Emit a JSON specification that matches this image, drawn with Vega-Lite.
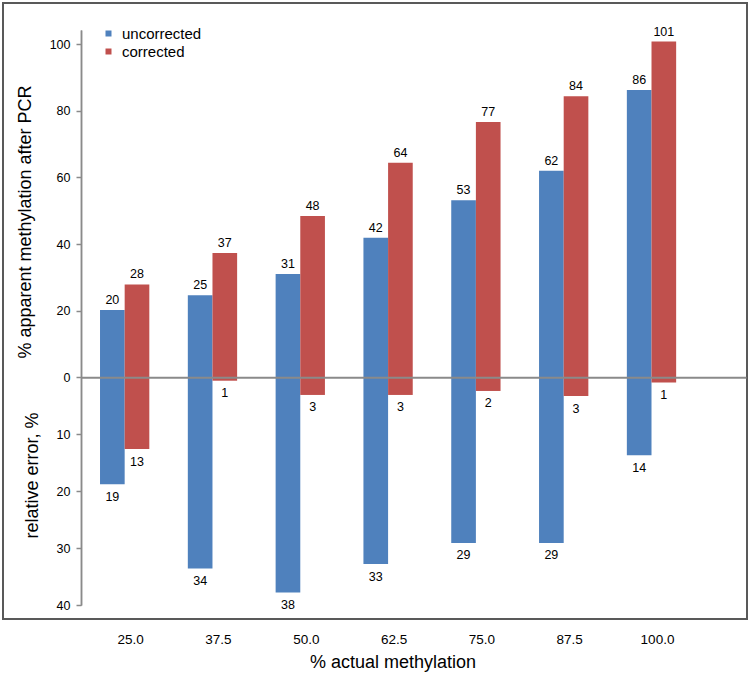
{
  "$schema": "https://vega.github.io/schema/vega-lite/v6.json",
  "width": 744,
  "height": 616,
  "autosize": "none",
  "padding": {"left": 3, "top": 3, "right": 3, "bottom": 56},
  "background": "white",
  "data": {
    "values": [
      {"actual": "25.0", "series": "uncorrected", "apparent": 20.2, "error": 18.8},
      {"actual": "25.0", "series": "corrected", "apparent": 27.9, "error": 12.6},
      {"actual": "37.5", "series": "uncorrected", "apparent": 24.6, "error": 33.6},
      {"actual": "37.5", "series": "corrected", "apparent": 37.3, "error": 0.6},
      {"actual": "50.0", "series": "uncorrected", "apparent": 31.0, "error": 37.8},
      {"actual": "50.0", "series": "corrected", "apparent": 48.4, "error": 3.1},
      {"actual": "62.5", "series": "uncorrected", "apparent": 41.9, "error": 32.8},
      {"actual": "62.5", "series": "corrected", "apparent": 64.4, "error": 3.1},
      {"actual": "75.0", "series": "uncorrected", "apparent": 53.2, "error": 29.1},
      {"actual": "75.0", "series": "corrected", "apparent": 76.7, "error": 2.4},
      {"actual": "87.5", "series": "uncorrected", "apparent": 62.0, "error": 29.1},
      {"actual": "87.5", "series": "corrected", "apparent": 84.4, "error": 3.3},
      {"actual": "100.0", "series": "uncorrected", "apparent": 86.3, "error": 13.7},
      {"actual": "100.0", "series": "corrected", "apparent": 100.8, "error": 0.9}
    ]
  },
  "encoding": {
    "x": {
      "field": "actual",
      "type": "nominal",
      "sort": ["25.0", "37.5", "50.0", "62.5", "75.0", "87.5", "100.0"],
      "scale": {"range": [78, 743], "paddingInner": 0.4385, "paddingOuter": 0.506, "align": 0.214},
      "axis": {
        "orient": "bottom",
        "offset": -241.7,
        "zindex": 1,
        "title": "% actual methylation",
        "titleFontSize": 18,
        "titleFontWeight": "normal",
        "titleColor": "black",
        "titleX": 389.5,
        "titleY": 290.5,
        "titleBaseline": "alphabetic",
        "labelAngle": 0,
        "labelFontSize": 13.5,
        "labelColor": "black",
        "labelPadding": 255,
        "labelOffset": 6,
        "ticks": false,
        "tickSize": 0,
        "domainColor": "#8a8a8a",
        "domainWidth": 2,
        "grid": false
      }
    },
    "xOffset": {
      "field": "series",
      "type": "nominal",
      "sort": ["uncorrected", "corrected"],
      "scale": {"paddingInner": 0, "paddingOuter": 0}
    }
  },
  "layer": [
    {
      "encoding": {
        "y": {
          "field": "apparent",
          "type": "quantitative",
          "scale": {"domain": [-68.38, 104.29], "range": [602, 27], "nice": false},
          "axis": {
            "orient": "left",
            "offset": -78,
            "values": [0, 20, 40, 60, 80, 100],
            "title": "% apparent methylation after PCR",
            "titleFontSize": 18,
            "titleFontWeight": "normal",
            "titleColor": "black",
            "titlePadding": 15,
            "titleY": 218.5,
            "labelFontSize": 12.5,
            "labelColor": "black",
            "labelPadding": 6,
            "tickSize": 5,
            "tickColor": "#8a8a8a",
            "tickWidth": 1.5,
            "domainColor": "#8a8a8a",
            "domainWidth": 1.5,
            "grid": false
          }
        }
      },
      "layer": [
        {
          "mark": {"type": "bar"},
          "encoding": {
            "color": {
              "field": "series",
              "type": "nominal",
              "scale": {"domain": ["uncorrected", "corrected"], "range": ["#4F81BD", "#C0504D"]},
              "legend": {
                "orient": "none",
                "legendX": 98,
                "legendY": 23,
                "title": null,
                "padding": 0,
                "symbolType": "square",
                "symbolSize": 36,
                "symbolStrokeWidth": 0,
                "labelFontSize": 15,
                "labelColor": "black",
                "labelOffset": 6,
                "rowPadding": 2
              }
            }
          }
        },
        {
          "mark": {"type": "text", "baseline": "alphabetic", "dy": -6, "fontSize": 12.5, "color": "black"},
          "encoding": {"text": {"field": "apparent", "type": "quantitative", "format": ".0f"}}
        }
      ]
    },
    {
      "encoding": {
        "y": {
          "field": "error",
          "type": "quantitative",
          "scale": {"domain": [-61.01, 40], "range": [602, 27], "reverse": true, "nice": false},
          "axis": {
            "orient": "left",
            "offset": -78,
            "values": [10, 20, 30, 40],
            "title": "relative error, %",
            "titleFontSize": 18,
            "titleFontWeight": "normal",
            "titleColor": "black",
            "titlePadding": 15,
            "titleY": 472,
            "labelFontSize": 12.5,
            "labelColor": "black",
            "labelPadding": 6,
            "tickSize": 5,
            "tickColor": "#8a8a8a",
            "tickWidth": 1.5,
            "domainColor": "#8a8a8a",
            "domainWidth": 1.5,
            "grid": false
          }
        }
      },
      "layer": [
        {
          "mark": {"type": "bar"},
          "encoding": {
            "color": {
              "field": "series",
              "type": "nominal",
              "scale": {"domain": ["uncorrected", "corrected"], "range": ["#4F81BD", "#C0504D"]},
              "legend": null
            }
          }
        },
        {
          "mark": {"type": "text", "baseline": "top", "dy": 6.5, "fontSize": 12.5, "color": "black"},
          "encoding": {"text": {"field": "error", "type": "quantitative", "format": ".0f"}}
        }
      ]
    }
  ],
  "resolve": {"scale": {"y": "independent"}},
  "config": {
    "font": "Liberation Sans",
    "view": {"stroke": "#595959", "strokeWidth": 2}
  }
}
